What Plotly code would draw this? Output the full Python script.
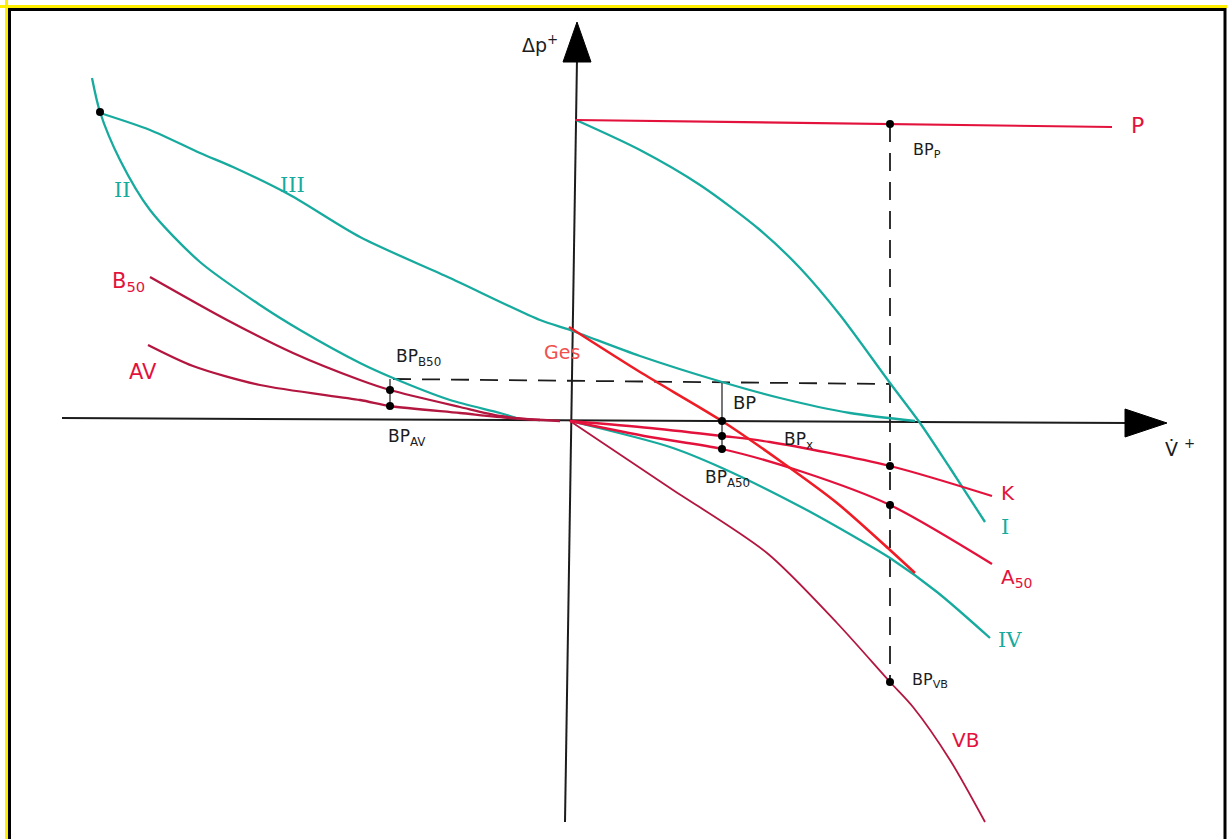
import plotly.graph_objects as go

# Characteristic curves: volume flow (x) vs. pressure difference (y)
P_x = [0.05, 5.42]
P_y = [3.01, 2.94]

I_x = [0.06, 0.70, 1.30, 1.90, 2.30, 2.70, 3.20, 3.50, 3.80, 4.15]
I_y = [3.01, 2.71, 2.36, 1.91, 1.53, 1.06, 0.38, -0.02, -0.47, -1.01]

III_x = [-4.70, -4.20, -3.70, -3.37, -2.80, -2.10, -1.20, -0.30, 0.00, 0.70, 1.52, 2.10, 2.80, 3.45]
III_y = [3.08, 2.91, 2.68, 2.54, 2.26, 1.84, 1.43, 1.01, 0.91, 0.65, 0.39, 0.23, 0.08, 0.00]

II_x = [-4.78, -4.70, -4.50, -4.20, -3.70, -3.10, -2.70, -2.10, -1.77, -1.20, -0.70, -0.50]
II_y = [3.43, 3.09, 2.61, 2.11, 1.59, 1.16, 0.91, 0.58, 0.43, 0.21, 0.08, 0.02]

B50_x = [-4.20, -3.43, -2.77, -2.10, -1.80, -1.10, -0.70, -0.30]
B50_y = [1.44, 1.01, 0.68, 0.41, 0.31, 0.14, 0.05, 0.01]

AV_x = [-4.22, -3.77, -3.10, -2.10, -1.80, -1.10, -0.60, -0.10]
AV_y = [0.76, 0.55, 0.36, 0.21, 0.15, 0.08, 0.03, 0.00]

Ges_x = [-0.01, 0.70, 1.52, 2.13, 2.67, 3.20, 3.45]
Ges_y = [0.94, 0.49, 0.00, -0.42, -0.82, -1.29, -1.52]

K_x = [0.00, 0.80, 1.52, 2.00, 3.20, 4.22]
K_y = [0.00, -0.07, -0.15, -0.21, -0.45, -0.75]

A50_x = [0.00, 0.80, 1.52, 2.33, 3.20, 4.22]
A50_y = [0.00, -0.16, -0.28, -0.51, -0.84, -1.43]

IV_x = [0.00, 1.00, 1.52, 2.33, 2.90, 3.20, 3.67, 4.20]
IV_y = [0.00, -0.26, -0.47, -0.87, -1.19, -1.37, -1.71, -2.17]

VB_x = [0.00, 1.00, 1.97, 2.67, 3.20, 3.43, 3.80, 4.15]
VB_y = [0.00, -0.67, -1.32, -2.02, -2.61, -2.86, -3.39, -4.01]

# Operating points
BP_x = [-4.70, -1.80, -1.80, 1.52, 1.52, 1.52, 3.20, 3.20, 3.20, 3.20]
BP_y = [3.09, 0.31, 0.15, 0.00, -0.15, -0.28, 2.97, -0.45, -0.84, -2.61]

# Construction lines
guide_h_x = [-1.77, 3.20]
guide_h_y = [0.42, 0.37]
guide_v_x = [3.20, 3.20]
guide_v_y = [2.97, -2.61]
tick_bp_x = [1.52, 1.52]
tick_bp_y = [0.39, -0.30]
tick_b50_x = [-1.80, -1.80]
tick_b50_y = [0.42, 0.15]

# Axes
xaxis_line_x = [-5.08, 5.60]
xaxis_line_y = [0.03, -0.02]
yaxis_line_x = [-0.05, 0.07]
yaxis_line_y = [-4.01, 3.62]

TEAL = "#17aa9e"
RED = "#e3123c"
DARKRED = "#b3163f"
INK = "#1c1c1c"

fig = go.Figure()


def curve(x, y, color, width=2.3):
    fig.add_trace(go.Scatter(x=x, y=y, mode="lines", line=dict(color=color, width=width,
                                                                 shape="spline", smoothing=0.8),
                             hoverinfo="skip", showlegend=False))


def straight(x, y, color=INK, width=1.6, dash="solid"):
    fig.add_trace(go.Scatter(x=x, y=y, mode="lines", line=dict(color=color, width=width, dash=dash),
                             hoverinfo="skip", showlegend=False))


# axes
straight(xaxis_line_x, xaxis_line_y, INK, 2)
straight(yaxis_line_x, yaxis_line_y, INK, 2)

# arrowheads
fig.add_trace(go.Scatter(x=[5.55, 5.97, 5.55, 5.55], y=[0.12, -0.02, -0.16, 0.12], mode="lines",
                         fill="toself", fillcolor="black", line=dict(color="black", width=1),
                         hoverinfo="skip", showlegend=False))
fig.add_trace(go.Scatter(x=[-0.07, 0.07, 0.21, -0.07], y=[3.59, 3.99, 3.59, 3.59], mode="lines",
                         fill="toself", fillcolor="black", line=dict(color="black", width=1),
                         hoverinfo="skip", showlegend=False))

# construction lines
straight(guide_h_x, guide_h_y, INK, 1.8, "18px,11px")
straight(guide_v_x, guide_v_y, INK, 1.8, "18px,11px")
straight(tick_bp_x, tick_bp_y, INK, 1.2)
straight(tick_b50_x, tick_b50_y, INK, 1.2)

# curves
curve(III_x, III_y, TEAL)
curve(II_x, II_y, TEAL)
curve(I_x, I_y, TEAL)
curve(IV_x, IV_y, TEAL)
curve(B50_x, B50_y, DARKRED)
curve(AV_x, AV_y, DARKRED)
curve(VB_x, VB_y, DARKRED, 1.8)
curve(K_x, K_y, RED)
curve(A50_x, A50_y, RED)
curve(Ges_x, Ges_y, "#ee1c25", 2.6)
straight(P_x, P_y, RED, 2.2)

# operating points
fig.add_trace(go.Scatter(x=BP_x, y=BP_y, mode="markers", marker=dict(color="black", size=8),
                         hoverinfo="skip", showlegend=False))

SANS = "DejaVu Sans"
SERIF = "DejaVu Serif"
labels = [
    ("Δp<sup>+</sup>", -0.30, 3.77, INK, 19, SANS),
    ("V̇ <sup>+</sup>", 6.10, -0.27, INK, 19, SANS),
    ("P", 5.67, 2.96, RED, 22, SANS),
    ("BP<sub>P</sub>", 3.57, 2.71, INK, 16, SANS),
    ("III", -2.78, 2.36, TEAL, 21, SERIF),
    ("II", -4.48, 2.31, TEAL, 21, SERIF),
    ("B<sub>50</sub>", -4.42, 1.39, RED, 21, SANS),
    ("AV", -4.27, 0.49, RED, 21, SANS),
    ("BP<sub>B50</sub>", -1.52, 0.64, INK, 17, SANS),
    ("BP<sub>AV</sub>", -1.63, -0.16, INK, 17, SANS),
    ("Ges", -0.08, 0.69, "#f0504c", 19, SANS),
    ("BP", 1.74, 0.19, INK, 18, SANS),
    ("BP<sub>x</sub>", 2.28, -0.19, INK, 17, SANS),
    ("BP<sub>A50</sub>", 1.57, -0.57, INK, 17, SANS),
    ("K", 4.38, -0.72, RED, 20, SANS),
    ("I", 4.35, -1.06, TEAL, 21, SERIF),
    ("A<sub>50</sub>", 4.47, -1.57, RED, 20, SANS),
    ("IV", 4.40, -2.19, TEAL, 21, SERIF),
    ("BP<sub>VB</sub>", 3.60, -2.59, INK, 16, SANS),
    ("VB", 3.95, -3.19, RED, 20, SANS),
]
for text, x, y, color, size, family in labels:
    fig.add_annotation(x=x, y=y, text=text, showarrow=False, xanchor="center", yanchor="middle",
                       font=dict(family=family, size=size, color=color))

# page frame
W, H = 1227, 839
frame = [
    (6.5, 0, 6.5, H, "#ffee00", 3),
    (0, 6.5, W, 6.5, "#ffee00", 3),
    (9.5, 8.5, 9.5, H, "black", 3),
    (8, 9.5, W - 2, 9.5, "black", 3),
    (1225, 8, 1225, H, "black", 3),
]
for x0, y0, x1, y1, c, w in frame:
    fig.add_shape(type="line", xref="paper", yref="paper", x0=x0 / W, y0=1 - y0 / H,
                  x1=x1 / W, y1=1 - y1 / H, line=dict(color=c, width=w))

fig.update_layout(
    width=W, height=H,
    margin=dict(l=0, r=0, t=0, b=0),
    paper_bgcolor="white", plot_bgcolor="white",
    xaxis=dict(range=[-5.70, 6.57], visible=False, fixedrange=True),
    yaxis=dict(range=[-4.18, 4.21], visible=False, fixedrange=True),
    showlegend=False,
)

fig.write_html("out.html")
